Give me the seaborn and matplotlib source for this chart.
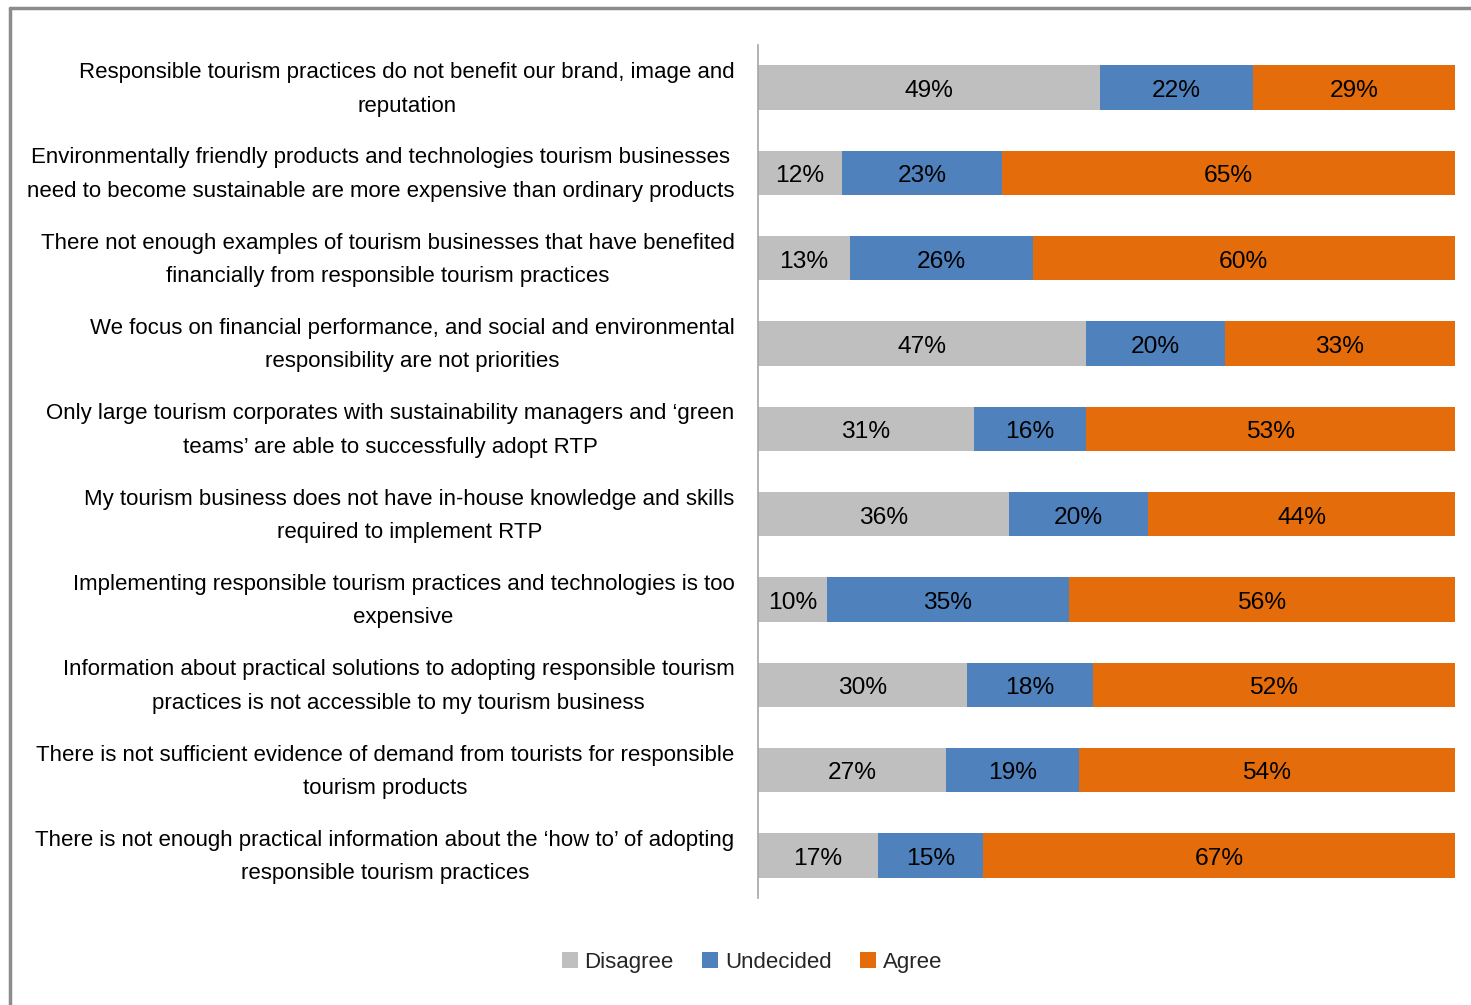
import matplotlib
matplotlib.use("Agg")
import matplotlib.pyplot as plt
import matplotlib.transforms as mtransforms
from matplotlib import font_manager as fm
from matplotlib.patches import Patch
from matplotlib.lines import Line2D
import seaborn as sns
import pandas as pd
import numpy as np

categories = [
    "Responsible tourism practices do not benefit our brand, image and\nreputation",
    "Environmentally friendly products and technologies tourism businesses\nneed to become sustainable are more expensive than ordinary products",
    "There not enough examples of tourism businesses that have benefited\nfinancially from responsible tourism practices",
    "We focus on financial performance, and social and environmental\nresponsibility are not priorities",
    "Only large tourism corporates with sustainability managers and \u2018green\nteams\u2019 are able to successfully adopt RTP",
    "My tourism business does not have in-house knowledge and skills\nrequired to implement RTP",
    "Implementing responsible tourism practices and technologies is too\nexpensive",
    "Information about practical solutions to adopting responsible tourism\npractices is not accessible to my tourism business",
    "There is not sufficient evidence of demand from tourists for responsible\ntourism products",
    "There is not enough practical information about the \u2018how to\u2019 of adopting\nresponsible tourism practices",
]
disagree = [49, 12, 13, 47, 31, 36, 10, 30, 27, 17]
undecided = [22, 23, 26, 20, 16, 20, 35, 18, 19, 15]
agree = [29, 65, 60, 33, 53, 44, 56, 52, 54, 67]
series_names = ["Disagree", "Undecided", "Agree"]
colors = ["#BFBFBF", "#4F81BD", "#E46C0A"]


def has_font(name):
    try:
        fm.findfont(fm.FontProperties(family=name), fallback_to_default=False)
        return True
    except Exception:
        return False


FONT = "Liberation Sans Narrow" if has_font("Liberation Sans Narrow") else "Liberation Sans"

sns.set_theme(style="white")
plt.rcParams["font.family"] = [FONT, "DejaVu Sans"]

fig = plt.figure(figsize=(14.71, 10.05), dpi=100)
renderer = fig.canvas.get_renderer()
probe = fig.text(0, 0, "need to become sustainable are more expensive than ordinary products", fontsize=20)
pw = probe.get_window_extent(renderer).width
ph = probe.get_window_extent(renderer).height
probe.remove()
FS = 20 * 706 / pw
FS_LBL = FS * 1.1
# line distance in reference is about 37 px
LS = 37 / (ph * FS / 20)

ax = fig.add_axes([758 / 1471, 1 - 898 / 1005, (1455 - 758) / 1471, (898 - 45) / 1005])

d = np.array(disagree, float)
u = np.array(undecided, float)
a = np.array(agree, float)
tot = d + u + a
df = pd.DataFrame({
    "category": categories,
    "c_agree": (d + u + a) / tot * 100,
    "c_undecided": (d + u) / tot * 100,
    "c_disagree": d / tot * 100,
})

for col, c in zip(["c_agree", "c_undecided", "c_disagree"], [colors[2], colors[1], colors[0]]):
    sns.barplot(data=df, x=col, y="category", orient="y", color=c, width=0.52,
                errorbar=None, linewidth=0, saturation=1, ax=ax)

# data labels
starts = [np.zeros_like(d), d / tot * 100, (d + u) / tot * 100]
widths = [d / tot * 100, u / tot * 100, a / tot * 100]
raw = [disagree, undecided, agree]
for s, w, r in zip(starts, widths, raw):
    for i in range(len(categories)):
        ax.text(s[i] + w[i] / 2, i + 0.04, f"{r[i]}%", ha="center", va="center",
                fontsize=FS_LBL, color="black")

ax.set_xlim(0, 100)
ax.set_xlabel("")
ax.set_ylabel("")
ax.xaxis.set_visible(False)
for sp in ["top", "right", "bottom"]:
    ax.spines[sp].set_visible(False)
ax.spines["left"].set_color("#A6A6A6")
ax.spines["left"].set_linewidth(1.2)
ax.tick_params(axis="y", length=0, pad=17, labelsize=FS, labelcolor="black")
shift = mtransforms.ScaledTranslation(0, 7 / 100, fig.dpi_scale_trans)
for t in ax.get_yticklabels():
    t.set_multialignment("center")
    t.set_linespacing(LS)
    t.set_transform(t.get_transform() + shift)

handles = [Patch(facecolor=c, edgecolor="none") for c in colors]
fig.legend(handles, series_names, loc="center", bbox_to_anchor=(752 / 1471, 1 - 962 / 1005),
           ncol=3, frameon=False, fontsize=FS, handlelength=0.7, handleheight=0.7,
           handletextpad=0.3, columnspacing=1.3)

# outer border (screenshot frame)
fig.add_artist(Line2D([10 / 1471, 1], [1 - 8 / 1005, 1 - 8 / 1005], transform=fig.transFigure,
                      color="#8C8C8C", lw=2.5))
fig.add_artist(Line2D([10 / 1471, 10 / 1471], [0, 1 - 8 / 1005], transform=fig.transFigure,
                      color="#8C8C8C", lw=2.5))

fig.savefig("out.png", dpi=100, facecolor="white")
